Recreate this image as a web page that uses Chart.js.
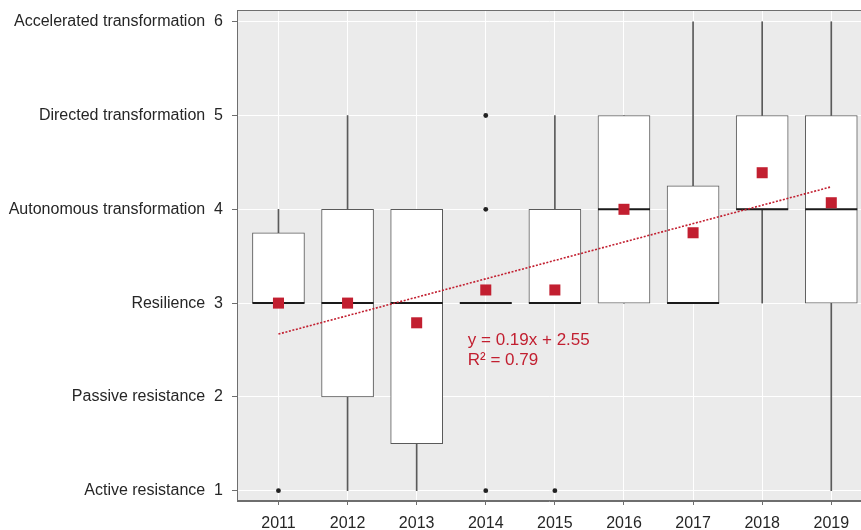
<!DOCTYPE html>
<html>
<head>
<meta charset="utf-8">
<script src="https://cdn.jsdelivr.net/npm/chart.js@4.4.1/dist/chart.umd.min.js"></script>
<style>
  html, body { margin: 0; padding: 0; background: #ffffff; overflow: hidden; }
  #wrap { width: 861px; height: 530px; position: relative; }
</style>
</head>
<body>
<div id="wrap"><canvas id="c" width="861" height="530"></canvas></div>
<script>
// ---- data ----
const years = ['2011','2012','2013','2014','2015','2016','2017','2018','2019'];
const yLevels = [1, 2, 3, 4, 5, 6];
const yLevelNames = ['Active resistance','Passive resistance','Resilience','Autonomous transformation','Directed transformation','Accelerated transformation'];
const whiskerLow  = [3,    1,   1,   3,   3,   3,   3,    3,   1];
const q1          = [3,    2,   1.5, 3,   3,   3,   3,    4,   3];
const median      = [3,    3,   3,   3,   3,   4,   3,    4,   4];
const q3          = [3.75, 4,   4,   3,   4,   5,   4.25, 5,   5];
const whiskerHigh = [4,    5,   4,   3,   5,   5,   6,    6,   6];
const means       = [3.0,  3.0, 2.79, 3.14, 3.14, 4.0, 3.75, 4.39, 4.07];
const outlierYear  = ['2011','2014','2014','2014','2015'];
const outlierValue = [1,     1,     4,     5,     1];
const trendYears  = ['2011','2019'];
const trendValues = [2.67, 4.24];
const annotationLines = ['y = 0.19x + 2.55', 'R\u00B2 = 0.79'];
const annotationAt = { year: 2.74, value: 2.555 }; // anchor in data units (x index, y)

const RED = '#C21F30';
const FONT = "'Liberation Sans', Arial, sans-serif";
const idx = y => years.indexOf(y);

const panelPlugin = {
  id: 'panel',
  beforeDraw(chart) {
    const {ctx, chartArea: a} = chart;
    ctx.save();
    ctx.fillStyle = '#EBEBEB';
    ctx.fillRect(a.left, a.top, a.right - a.left, a.bottom - a.top);
    ctx.restore();
  },
  afterDatasetsDraw(chart) {
    const {ctx, chartArea: a, scales} = chart;
    ctx.save();
    ctx.strokeStyle = '#6E6E6E';
    ctx.lineWidth = 1;
    ctx.strokeRect(a.left + 0.5, a.top + 0.5, a.right - a.left + 5, a.bottom - a.top - 1);
    // regression annotation
    ctx.fillStyle = RED;
    ctx.font = '17px ' + FONT;
    ctx.textAlign = 'left';
    ctx.textBaseline = 'alphabetic';
    const x = scales.x.getPixelForValue(annotationAt.year);
    const y = scales.y.getPixelForValue(annotationAt.value);
    annotationLines.forEach((t, i) => ctx.fillText(t, x, y + i * 20));
    ctx.restore();
  }
};

const boxData = years.map((y, i) => ({x: i, y: [q1[i], q3[i]]}));
const upperW = years.map((y, i) => ({x: i, y: [q3[i], whiskerHigh[i]]}));
const lowerW = years.map((y, i) => ({x: i, y: [whiskerLow[i], q1[i]]}));
const medData = years.map((y, i) => ({x: i, y: median[i]}));
const meanData = years.map((y, i) => ({x: i, y: means[i]}));
const outData = outlierYear.map((y, i) => ({x: idx(y), y: outlierValue[i]}));
const trendData = trendYears.map((y, i) => ({x: idx(y), y: trendValues[i]}));

new Chart(document.getElementById('c'), {
  type: 'bar',
  data: {
    datasets: [
      { type: 'line', data: meanData, showLine: false, pointStyle: 'rect', pointRadius: 7.8, pointHoverRadius: 7.8,
        pointBackgroundColor: RED, pointBorderWidth: 0, order: 0 },
      { type: 'line', data: trendData, borderColor: RED, borderWidth: 1.6, borderDash: [2, 1.6], pointRadius: 0, fill: false, order: 1 },
      { type: 'line', data: outData, showLine: false, pointStyle: 'circle', pointRadius: 2.4, pointBackgroundColor: '#222', pointBorderWidth: 0, order: 2 },
      { type: 'line', data: medData, showLine: false, pointStyle: 'line', pointRadius: 26, pointHoverRadius: 26,
        pointBorderColor: '#1a1a1a', pointBorderWidth: 2, order: 3 },
      { type: 'bar', data: boxData, backgroundColor: '#FFFFFF', borderColor: '#5A5A5A', borderWidth: 1, borderSkipped: false,
        barThickness: 52, grouped: false, order: 4 },
      { type: 'bar', data: upperW, backgroundColor: '#5A5A5A', borderWidth: 0, barThickness: 1, grouped: false, order: 5 },
      { type: 'bar', data: lowerW, backgroundColor: '#5A5A5A', borderWidth: 0, barThickness: 1, grouped: false, order: 6 }
    ]
  },
  options: {
    responsive: false,
    animation: false,
    events: [],
    layout: { autoPadding: false, padding: { top: 10, right: 0, left: 0, bottom: 0 } },
    plugins: { legend: { display: false }, tooltip: { enabled: false } },
    scales: {
      x: {
        type: 'linear', min: -0.6, max: 8.43, offset: false,
        afterBuildTicks: ax => { ax.ticks = years.map((y, i) => ({value: i})); },
        afterFit: ax => { ax.height = 29; ax.paddingLeft = 0; ax.paddingRight = 0; },
        grid: { offset: false, color: '#FFFFFF', lineWidth: 1, drawTicks: true, tickLength: 4, tickColor: '#6E6E6E', tickWidth: 1 },
        border: { display: true, color: '#6E6E6E', width: 1 },
        ticks: { callback: v => years[v], color: '#262626', font: { family: FONT, size: 16 }, padding: 9, maxRotation: 0, autoSkip: false }
      },
      y: {
        type: 'linear', min: 0.89, max: 6.125,
        afterBuildTicks: ax => { ax.ticks = yLevels.map(v => ({value: v})); },
        afterFit: ax => { ax.width = 237; ax.paddingTop = 0; ax.paddingBottom = 0; },
        grid: { color: '#FFFFFF', lineWidth: 1, drawTicks: true, tickLength: 5, tickColor: '#6E6E6E', tickWidth: 1 },
        border: { display: true, color: '#6E6E6E', width: 1 },
        ticks: { callback: v => yLevelNames[yLevels.indexOf(v)] + '  ' + v, color: '#262626', font: { family: FONT, size: 16 }, padding: 9 }
      }
    }
  },
  plugins: [panelPlugin]
});
</script>
</body>
</html>
